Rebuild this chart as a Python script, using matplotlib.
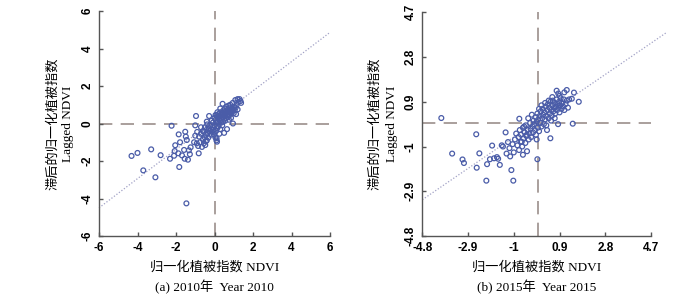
import matplotlib
matplotlib.use("Agg")
import matplotlib.pyplot as plt
import numpy as np

plt.rcParams['axes.unicode_minus'] = False

# ---------------- data ----------------
ndvi_2010 = [-4.31, -4.0, -3.7, -3.29, -3.07, -2.8, -2.31, -2.23, -2.1, -2.07, -2.04, -1.86, -1.83, -1.88, -1.79,
             -1.69, -1.58, -1.55, -1.52, -1.49, -1.44, -1.38, -1.33, -1.28, -1.24, -1.46, -1.06, -0.96, -1.0, -0.92,
             -0.82,
             -0.9, -0.85, -0.8, -0.75, -0.7, -0.65, -0.6, -0.55, -0.5, -0.48, -0.45, -0.6, -0.7, -1.0, -0.4,
             -0.55, -0.5, -0.45, -0.42, -0.4, -0.38, -0.35, -0.32, -0.3, -0.28, -0.25, -0.22, -0.2, -0.18, -0.15,
             -0.12, -0.1, -0.08, -0.05, -0.03, 0.0, 0.02, 0.05, 0.06, 0.08, 0.1, 0.1, 0.12, 0.14, 0.15, 0.18, 0.2,
             0.2, 0.22, 0.25, 0.26, 0.28, 0.3, 0.3, 0.32, 0.35, 0.36, 0.38, 0.4, 0.42, 0.42, 0.45, 0.46, 0.48, 0.5,
             0.52, 0.54, 0.55, 0.56, 0.58, 0.6, 0.6, 0.62, 0.64, 0.65, 0.66, 0.68, 0.7, 0.7, 0.72, 0.74, 0.75, 0.76,
             0.78, 0.8, 0.8, 0.82, 0.84, 0.86, 0.88, 0.9, 0.92, 0.95, 0.96, 0.98, 1.0, 1.02, 1.05, 1.08, 1.1, 1.12,
             1.15, 1.2, 1.25, 1.3, 1.35, 1.38, 1.2, 0.5, 0.25, 0.4, 0.15, 0.3, 0.0, 0.05, 0.11, 0.13]
lag_2010 = [-1.73, -1.57, -2.5, -1.38, -2.87, -1.69, -1.88, -0.12, -1.72, -1.47, -1.16, -0.58, -2.32, -1.59, -1.0,
            -1.7, -1.41, -1.88, -0.44, -0.7, -0.88, -1.93, -1.43, -1.64, -1.27, -4.26, -1.0, 0.4, -0.65, -1.06,
            -1.59,
            -0.45, -1.2, -0.7, -1.0, -0.55, -1.25, -0.85, -1.05, -0.75, -1.15, -0.95, -0.4, -0.2, -0.1, 0.1,
            -0.45, -0.2, -0.6, -0.35, -0.9, -0.05, -0.5, -0.75, -0.25, 0.4, -0.4, -0.1, -0.6, -0.3, 0.15,
            -0.45, -0.2, 0.05, -0.35, -0.6, 0.3, -0.1, -0.75, 0.2, -0.4, 0.45, -0.9, 0.05, -0.25, 0.35, 0.1, 0.5,
            -0.15, 0.25, 0.0, 0.4, 0.15, 0.6, -0.3, 0.3, 0.45, 0.05, 0.2, 0.55, 0.35, 1.05, 0.1, 0.7, 0.45, 0.25,
            0.6, 0.4, 0.8, 0.15, 0.5, 0.65, 0.3, 0.9, 0.45, -0.3, 0.6, 0.75, 0.35, 0.5, 0.95, 0.6, 0.2, 0.7,
            0.85, 0.45, 0.6, 1.0, 0.7, 0.3, 0.55, 0.8, 0.65, 1.1, 0.0, 0.75, 0.55, 0.9, 0.7, 1.25, 0.85, 0.5,
            1.0, 0.75, 1.15, 1.3, 1.2, 1.1, 1.3, -0.5, -0.55, -0.1, 0.6, 0.8, -0.45, 0.45, -0.79, -0.97]

ndvi_2015 = [-4.01, -3.56, -3.13, -3.07, -2.56, -2.54, -2.43, -2.14, -2.11, -1.9, -1.99, -1.82, -1.7, -1.65, -1.58,
             -1.5, -1.45, -1.34, -1.3, -1.24, -1.18, -1.15, -1.1, -1.02, -1.05, -1.0, -0.02, 0.78, 1.2, 1.5, 1.1,
             0.85, 1.7, 1.45, 0.84, 0.52, 1.41, 1.3, -0.77, -0.67, -0.62, -0.46, -0.57,
             -0.95, -0.9, -0.85, -0.8, -0.78, -0.75, -0.72, -0.7, -0.65, -0.62, -0.6, -0.55, -0.52, -0.5, -0.48,
             -0.45, -0.42, -0.4, -0.38, -0.35, -0.32, -0.3, -0.28, -0.25, -0.22, -0.2, -0.18, -0.15, -0.12, -0.1,
             -0.08, -0.05, -0.02, 0.0, 0.02, 0.05, 0.08, 0.1, 0.12, 0.15, 0.18, 0.2, 0.22, 0.25, 0.28, 0.3, 0.32,
             0.35, 0.38, 0.4, 0.42, 0.45, 0.48, 0.5, 0.52, 0.55, 0.58, 0.6, 0.62, 0.65, 0.68, 0.7, 0.72, 0.75, 0.78,
             0.8, 0.82, 0.85, 0.88, 0.9, 0.92, 0.95, 0.98, 1.0, 1.05, 1.08, 1.1, 1.15, 1.2, 1.25, 0.6, 0.45, 0.3,
             0.7, 0.9, 0.35, 0.15, -0.05, 0.05, 0.55]
lag_2015 = [0.21, -1.3, -1.55, -1.7, -0.48, -1.9, -1.29, -2.45, -1.75, -0.96, -1.54, -1.5, -1.45, -1.52, -1.78,
            -0.95, -1.0, -0.4, -1.3, -0.81, -1.07, -1.42, -2.0, -2.45, -0.9, -1.25, -1.54, 1.37, 1.4, 1.29, 1.3,
            1.25, 0.9, -0.03, -0.05, -0.65, 1.03, 1.0, 0.18, -0.8, -1.35, -0.5, -0.15,
            -0.7, -0.45, -0.95, -0.6, -1.15, -0.3, -0.8, -0.5, -1.0, -0.2, -0.65, -0.4, -0.85, -0.1, -0.55,
            -1.2, -0.3, 0.2, -0.7, -0.45, 0.0, -0.25, -0.6, 0.35, -0.15, -0.4, 0.1, -0.05, -0.3, 0.25,
            -0.5, 0.05, 0.4, -0.2, 0.15, -0.35, 0.3, 0.0, 0.5, -0.15, 0.2, 0.6, 0.35, -0.05, 0.45, 0.15, 0.7,
            0.3, -0.3, 0.55, 0.8, 0.2, 0.65, 0.4, 0.9, 0.55, 0.3, 0.75, 0.95, 0.5, 0.65, 0.85, 0.4, 0.7, 1.0,
            0.55, 0.8, 0.65, 0.9, 0.45, 0.75, 1.05, 0.6, 0.85, 0.7, 1.0, 0.55, 0.8, 0.95, 0.65, 1.1, 0.95, 0.85,
            0.2, 1.15, -0.1, 0.75, -0.7, 0.6, 0.1]

ticks_2010 = [-6, -4, -2, 0, 2, 4, 6]
ticks_2015 = [-4.8, -2.9, -1, 0.9, 2.8, 4.7]
tick_labels_2015 = ["-4.8", "-2.9", "-1", "0.9", "2.8", "4.7"]

fit_2010 = (0.78, 0.18)   # slope, intercept
fit_2015 = (0.70, 0.10)

# ---------------- style ----------------
pt_color = "#4a5ca8"
dash_color = "#9b8f8b"
fit_color = "#a2a2c6"
spine_color = "#555555"
serif = ["Liberation Serif", "Noto Sans CJK SC"]
tickfont = dict(family="Liberation Sans", weight="bold", size=8.5)

fig = plt.figure(figsize=(7.0, 3.05), dpi=100)

def panel(rect, xs, ys, ticks, labels, fit, fit_x, caption, ylab_x):
    ax = fig.add_axes(rect)
    lo, hi = ticks[0], ticks[-1]
    ax.set_xlim(lo, hi)
    ax.set_ylim(lo, hi)
    for s in ["top", "right"]:
        ax.spines[s].set_visible(False)
    for s in ["left", "bottom"]:
        ax.spines[s].set_color(spine_color)
        ax.spines[s].set_linewidth(1.0)
    ax.set_xticks(ticks)
    ax.set_yticks(ticks)
    ax.set_xticklabels(labels, **tickfont)
    ax.set_yticklabels(labels, rotation=90, va="center", **tickfont)
    ax.tick_params(direction="in", length=3, width=1, color=spine_color, pad=4)
    ax.axvline(0, color=dash_color, lw=1.2, dashes=(8, 5), zorder=1)
    ax.axhline(0, color=dash_color, lw=1.2, dashes=(8, 5), zorder=1)
    fx = np.array(fit_x)
    ax.plot(fx, fit[0] * fx + fit[1], color=fit_color, lw=0.9, ls=(0, (1, 1.5)),
            clip_on=False, zorder=2)
    ax.scatter(xs, ys, s=12, facecolors="none", edgecolors=pt_color, linewidths=0.9, zorder=3)
    cx = rect[0] + rect[2] / 2
    fig.text(cx, 1 - 267 / 305, "归一化植被指数 NDVI", ha="center", va="center",
             family=serif, fontsize=9.5)
    fig.text(cx, 1 - 287 / 305, caption, ha="center", va="center",
             family=serif, fontsize=9.5)
    cy = rect[1] + rect[3] / 2
    fig.text(ylab_x[0] / 700, cy, "滞后的归一化植被指数", rotation=90, ha="center", va="center",
             family=serif, fontsize=9.5)
    fig.text(ylab_x[1] / 700, cy, "Lagged NDVI", rotation=90, ha="center", va="center",
             family=serif, fontsize=9.5)
    return ax

panel([99 / 700, 69 / 305, 231 / 700, 225 / 305], ndvi_2010, lag_2010, ticks_2010,
      [str(t) for t in ticks_2010], fit_2010, [-6, 6], "(a) 2010年  Year 2010", (53, 68))
panel([422.3 / 700, 69 / 305, 228.7 / 700, 223.7 / 305], ndvi_2015, lag_2015, ticks_2015,
      tick_labels_2015, fit_2015, [-4.8, 5.35], "(b) 2015年  Year 2015", (375, 392))

fig.savefig("out.png", dpi=100)
